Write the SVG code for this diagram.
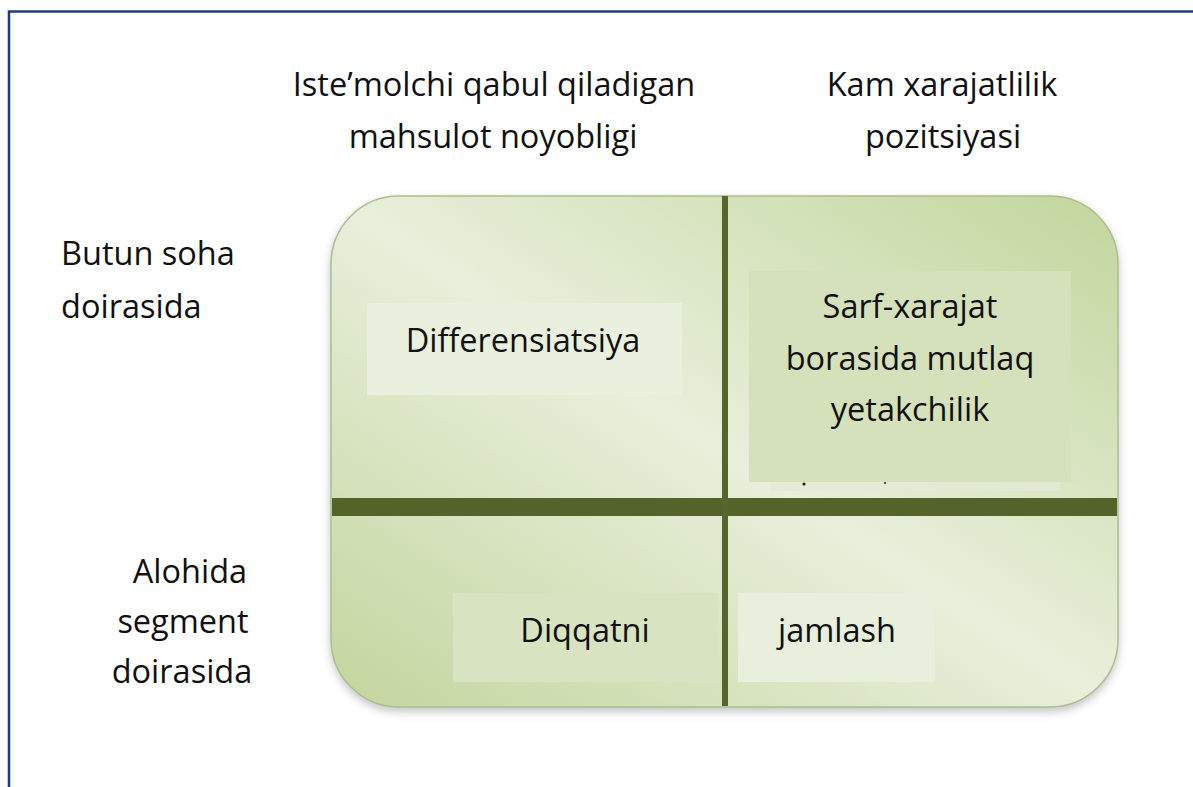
<svg xmlns="http://www.w3.org/2000/svg" width="1193" height="787" viewBox="0 0 1193 787">
  <style>
    .t { font-family: "Open Sans", Lato, "Liberation Sans", sans-serif; font-size: 32.5px; fill: #111111; }
    .m { text-anchor: middle; }
  </style>
  <defs>
    <linearGradient id="bg" x1="1" y1="0" x2="0" y2="1">
      <stop offset="0" stop-color="#c2d69c"/>
      <stop offset="0.5" stop-color="#e8efdb"/>
      <stop offset="1" stop-color="#c3d59d"/>
    </linearGradient>
    <filter id="sh" x="-5%" y="-5%" width="110%" height="115%">
      <feDropShadow dx="0" dy="4" stdDeviation="4" flood-color="#7a7a7a" flood-opacity="0.45"/>
    </filter>
  </defs>
  <rect width="1193" height="787" fill="#ffffff"/>
  <!-- frame -->
  <path d="M9 787 V11.5 H1193" fill="none" stroke="#1f3d7a" stroke-width="2.5"/>

  <g id="matrix">
    <rect x="331" y="196" width="787" height="511" rx="68" ry="68" fill="url(#bg)" stroke="#aebd90" stroke-width="1.5" filter="url(#sh)"/>
  </g>

  <g id="box-differensiatsiya">
    <rect x="367" y="303" width="315" height="92" fill="#e9f0de"/>
    <text class="t m" x="523" y="352">Differensiatsiya</text>
  </g>
  <g id="box-sarf">
    <rect x="749" y="271" width="322" height="211" fill="#d5e1bb"/>
    <rect x="770" y="482" width="290" height="9" fill="#e4ead6" opacity="0.8"/>
    <circle cx="804" cy="484" r="1.6" fill="#222"/>
    <circle cx="885" cy="483" r="1" fill="#222"/>
    <text class="t m" x="910" y="318">Sarf-xarajat</text>
    <text class="t m" x="910" y="370">borasida mutlaq</text>
    <text class="t m" x="910" y="421">yetakchilik</text>
  </g>
  <g id="box-diqqatni">
    <rect x="453" y="593" width="265" height="89" fill="#d8e3c1"/>
    <text class="t m" x="585" y="642">Diqqatni</text>
  </g>
  <g id="box-jamlash">
    <rect x="738" y="593" width="197" height="89" fill="#e8efdd"/>
    <text class="t" x="778" y="642">jamlash</text>
  </g>

  <g id="connectors">
    <rect x="332" y="498" width="785" height="18" fill="#536329"/>
    <rect x="722" y="196" width="6" height="510" fill="#55652c"/>
  </g>

  <g id="labels">
    <text class="t m" x="494" y="96">Iste’molchi qabul qiladigan</text>
    <text class="t m" x="493" y="148">mahsulot noyobligi</text>
    <text class="t m" x="942" y="96">Kam xarajatlilik</text>
    <text class="t m" x="943" y="148">pozitsiyasi</text>
    <text class="t" x="61" y="265">Butun soha</text>
    <text class="t" x="61" y="318">doirasida</text>
    <text class="t m" x="190" y="583">Alohida</text>
    <text class="t m" x="183" y="633">segment</text>
    <text class="t m" x="182" y="683">doirasida</text>
  </g>
</svg>
